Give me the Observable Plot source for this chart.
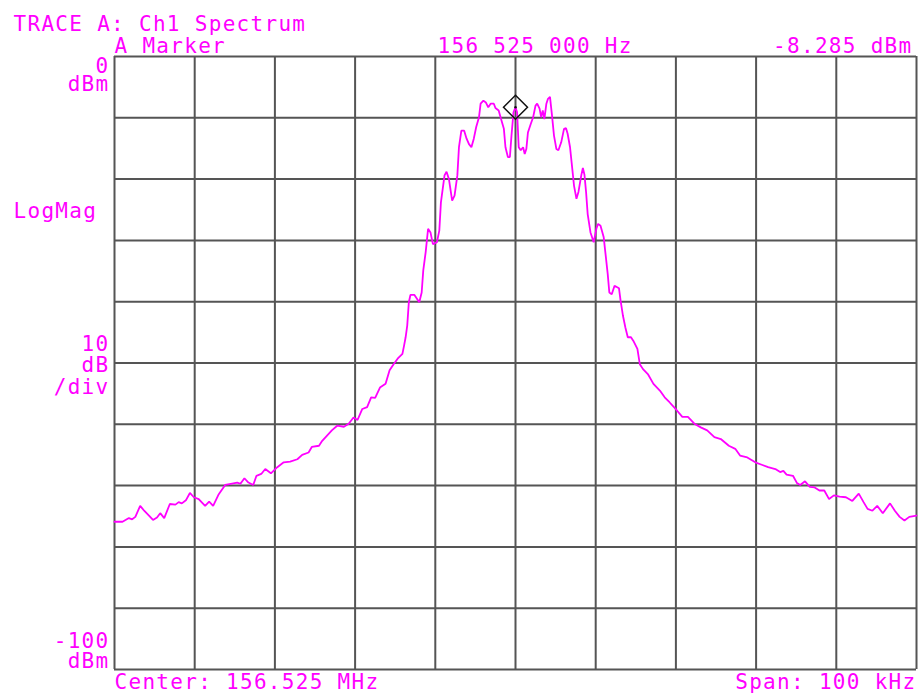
<!DOCTYPE html>
<html>
<head>
<meta charset="utf-8">
<script src="https://cdn.jsdelivr.net/npm/d3@7"></script>
<script src="https://cdn.jsdelivr.net/npm/@observablehq/plot@0.6"></script>
<style>
  html, body { margin: 0; padding: 0; background: #fff; }
  svg text { letter-spacing: 1.3px; }
</style>
</head>
<body>
<div id="chart"></div>
<script>
// Frequency offset from centre (kHz) and measured level (dBm)
const offsetKHz = [
  -50.0, -49.0, -48.2, -47.8, -47.4, -46.8, -46.3, -45.7, -45.2, -44.7,
  -44.3, -43.8, -43.1, -42.4, -42.0, -41.6, -41.1, -40.6, -40.1, -39.5,
  -38.7, -38.2, -37.7, -37.0, -36.2, -35.5, -34.7, -34.3, -33.8, -33.3,
  -32.7, -32.3, -31.7, -31.2, -30.5, -29.7, -28.9, -28.1, -27.2, -26.6,
  -25.8, -25.4, -24.5, -24.1, -22.9, -22.2, -21.4, -20.8, -20.2, -19.7,
  -19.1, -18.5, -18.0, -17.5, -16.9, -16.2, -15.7, -15.2, -14.7, -14.1,
  -13.9, -13.7, -13.5, -13.3, -13.1, -12.6, -12.0, -11.7, -11.5, -11.2,
  -10.9, -10.6, -10.3, -9.8, -9.5, -9.3, -8.85, -8.6, -8.3, -7.9,
  -7.6, -7.25, -7.05, -6.75, -6.4, -6.1, -5.8, -5.5, -5.2, -4.9,
  -4.55, -4.35, -4.0, -3.7, -3.4, -3.1, -2.7, -2.5, -2.1, -1.8,
  -1.45, -1.25, -0.95, -0.7, -0.5, -0.25, 0.0, 0.2, 0.4, 0.65,
  0.95, 1.15, 1.35, 1.55, 1.9, 2.2, 2.5, 2.7, 3.0, 3.2,
  3.4, 3.6, 3.85, 4.05, 4.3, 4.55, 4.8, 5.1, 5.35, 5.7,
  6.05, 6.3, 6.5, 6.8, 7.0, 7.3, 7.6, 7.85, 8.2, 8.4,
  8.6, 8.8, 9.0, 9.35, 9.75, 10.1, 10.3, 10.6, 11.0, 11.2,
  11.5, 11.7, 12.0, 12.35, 12.9, 13.1, 13.4, 13.7, 14.0, 14.4,
  14.7, 15.2, 15.5, 15.9, 16.5, 17.2, 18.0, 18.6, 19.2, 20.1,
  20.8, 21.5, 22.3, 23.1, 23.9, 24.8, 25.6, 26.6, 27.4, 28.0,
  28.9, 29.9, 30.7, 31.5, 32.4, 33.0, 33.4, 33.8, 34.6, 35.1,
  35.5, 36.1, 36.7, 37.3, 37.9, 38.5, 39.1, 39.7, 40.4, 41.2,
  42.0, 42.8, 43.4, 43.9, 44.5, 45.1, 45.8, 46.7, 47.3, 47.9,
  48.5, 49.1, 50.0
];
const levelDbm = [
  -75.9, -75.9, -75.3, -75.5, -75.1, -73.3, -74.1, -74.9, -75.6, -75.2,
  -74.5, -75.3, -73.0, -73.1, -72.7, -72.9, -72.4, -71.2, -71.9, -72.2,
  -73.3, -72.6, -73.3, -71.4, -69.9, -69.7, -69.5, -69.7, -68.8, -69.5,
  -69.9, -68.4, -68.1, -67.3, -68.0, -67.0, -66.2, -66.1, -65.7, -65.0,
  -64.6, -63.7, -63.5, -62.7, -61.0, -60.2, -60.4, -59.9, -58.9, -59.3,
  -57.5, -57.2, -55.6, -55.7, -54.0, -53.4, -51.2, -50.2, -49.3, -48.5,
  -47.2, -45.8, -43.9, -40.1, -38.9, -38.9, -40.1, -38.5, -34.9, -31.9,
  -28.1, -28.7, -30.6, -30.3, -28.4, -23.8, -19.4, -18.8, -20.0, -23.5,
  -22.7, -19.4, -14.8, -12.1, -12.1, -13.4, -14.3, -14.8, -13.4, -11.5,
  -9.9, -7.7, -7.2, -7.5, -8.3, -7.7, -7.7, -8.4, -8.8, -10.2,
  -11.8, -14.8, -16.4, -16.4, -12.9, -9.1, -8.285, -9.1, -14.8, -15.3,
  -14.8, -15.9, -15.1, -12.4, -11.0, -9.9, -8.0, -7.7, -8.5, -9.9,
  -8.8, -10.2, -7.7, -6.9, -6.6, -9.6, -12.9, -15.1, -15.3, -14.0,
  -11.8, -11.7, -12.6, -14.8, -17.3, -21.1, -23.2, -22.1, -19.4, -18.2,
  -19.3, -22.1, -25.7, -28.7, -30.3, -28.0, -27.3, -27.6, -29.5, -31.9,
  -35.5, -38.5, -38.8, -37.4, -37.8, -39.8, -42.3, -44.2, -45.8, -45.8,
  -46.4, -47.7, -50.2, -51.0, -51.8, -53.4, -54.5, -55.6, -56.4, -57.7,
  -58.8, -58.8, -59.9, -60.5, -61.0, -62.1, -62.4, -63.5, -64.0, -65.1,
  -65.4, -66.2, -66.6, -67.0, -67.3, -67.8, -67.6, -68.2, -68.4, -69.6,
  -69.9, -69.3, -70.2, -70.3, -70.8, -70.8, -72.2, -71.6, -71.8, -71.9,
  -72.5, -71.3, -72.7, -73.8, -74.1, -73.3, -74.5, -72.9, -74.1, -75.1,
  -75.7, -75.1, -74.9
];

// Grid divisions (10 kHz/div, 10 dB/div)
const gridKHz = [-50, -40, -30, -20, -10, 0, 10, 20, 30, 40, 50];
const gridDbm = [0, -10, -20, -30, -40, -50, -60, -70, -80, -90, -100];

// Marker
const markerKHz = [0];
const markerDbm = [-8.285];

// Texts
const titleText = "TRACE A: Ch1 Spectrum";
const markerLabel = "A Marker";
const markerFreqText = "156 525 000 Hz";
const markerLevelText = "-8.285 dBm";
const formatText = "LogMag";
const centerText = "Center: 156.525 MHz";
const spanText = "Span: 100 kHz";
const refLevelText = ["0", "dBm"];
const scaleText = ["10", "dB", "/div"];
const bottomLevelText = ["-100", "dBm"];
const refLevel = 0;
const midLevel = -50;
const bottomLevel = -100;

const trace = offsetKHz.map((f, i) => ({f, v: levelDbm[i]}));
const marker = markerKHz.map((f, i) => ({f, v: markerDbm[i]}));

const MAG = "#ff00ff";
const GRID = "#555555";
const FS = 21;

const txt = (s, opts) => Plot.text([s], {text: d => d, fill: MAG, fontSize: FS, lineAnchor: "bottom", ...opts});
const sideTxt = (s, level, dy) => Plot.text([{t: s, v: level}], {y: "v", text: "t", frameAnchor: "left", textAnchor: "end", dx: -5, dy, fill: MAG, fontSize: FS, lineAnchor: "bottom"});

const chart = Plot.plot({
  width: 918,
  height: 693,
  marginLeft: 114,
  marginRight: 2,
  marginTop: 56,
  marginBottom: 24,
  style: {fontFamily: "DejaVu Sans Mono", fontSize: FS + "px", background: "#fff"},
  x: {domain: [-50, 50], axis: null},
  y: {domain: [-100, 0], axis: null},
  marks: [
    Plot.ruleX(gridKHz, {stroke: GRID, strokeWidth: 2}),
    Plot.ruleY(gridDbm, {stroke: GRID, strokeWidth: 2}),
    Plot.line(trace, {x: "f", y: "v", stroke: MAG, strokeWidth: 1.8, strokeLinejoin: "miter"}),
    Plot.dot(marker, {x: "f", y: "v", symbol: "diamond2", r: 10.8, stroke: "#111", strokeWidth: 1.5, fill: "none"}),
    Plot.dot(marker, {x: "f", y: "v", r: 1.2, fill: "#111", stroke: "none"}),
    // header
    txt(titleText, {frameAnchor: "top-left", textAnchor: "start", dx: -101, dy: -26}),
    txt(markerLabel, {frameAnchor: "top-left", textAnchor: "start", dx: 0, dy: -4}),
    txt(markerFreqText, {frameAnchor: "top-left", textAnchor: "start", dx: 323, dy: -4}),
    txt(markerLevelText, {frameAnchor: "top-right", textAnchor: "end", dx: -4, dy: -4}),
    // left side
    txt(formatText, {frameAnchor: "top-left", textAnchor: "start", dx: -101, dy: 161}),
    sideTxt(refLevelText[0], refLevel, 16),
    sideTxt(refLevelText[1], refLevel, 34),
    sideTxt(scaleText[0], midLevel, -12),
    sideTxt(scaleText[1], midLevel, 9),
    sideTxt(scaleText[2], midLevel, 31),
    sideTxt(bottomLevelText[0], bottomLevel, -22),
    sideTxt(bottomLevelText[1], bottomLevel, -2),
    // footer
    txt(centerText, {frameAnchor: "bottom-left", textAnchor: "start", dx: 0, dy: 19}),
    txt(spanText, {frameAnchor: "bottom-right", textAnchor: "end", dx: 0, dy: 19})
  ]
});

document.getElementById("chart").append(chart);
</script>
</body>
</html>
